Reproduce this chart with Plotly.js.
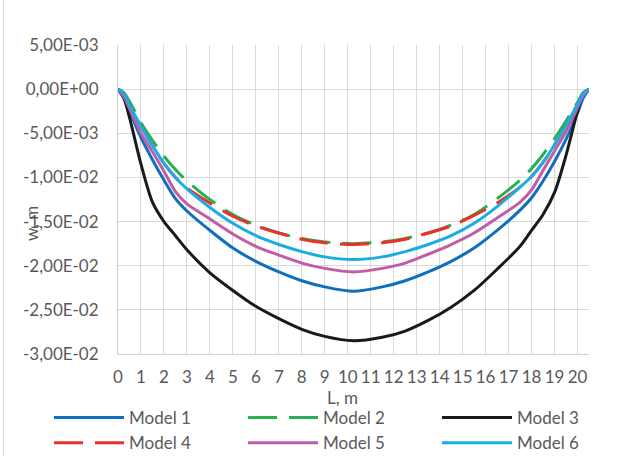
<!DOCTYPE html>
<html>
<head>
<meta charset="utf-8">
<script src="https://cdn.plot.ly/plotly-3.0.1.min.js"></script>
<style>
  html, body { margin: 0; padding: 0; background: #ffffff; }
  #chart { width: 618px; height: 456px; }
</style>
</head>
<body>
<div id="chart"></div>
<script>
// Positions along the span, m
const L = [0, 0.25, 0.5, 1, 1.5, 2, 2.5, 3, 4, 5, 6, 7, 8, 9, 10.25,
           11.5, 12.5, 13.5, 14.5, 15.5, 16.5, 17.5, 18, 18.5, 19, 19.5, 20, 20.25, 20.5];

// Deflection w of each model, m
const model1 = [0, -0.0009, -0.0025, -0.0055, -0.0080, -0.0103, -0.0124, -0.0138, -0.0160, -0.0180, -0.0195, -0.0207, -0.0217, -0.0224, -0.0229,
                -0.0224, -0.0217, -0.0207, -0.0195, -0.0180, -0.0160, -0.0137, -0.0123, -0.0104, -0.0082, -0.0057, -0.0027, -0.0010, 0];
const model2 = [0, -0.0004, -0.0014, -0.0038, -0.0058, -0.0076, -0.0091, -0.0104, -0.0125, -0.0142, -0.0154, -0.0163, -0.0169, -0.0173, -0.0175,
                -0.0173, -0.0169, -0.0163, -0.0154, -0.0142, -0.0124, -0.0103, -0.0090, -0.0074, -0.0056, -0.0036, -0.0015, -0.0004, 0];
const model3 = [0, -0.0010, -0.0032, -0.0085, -0.0128, -0.0150, -0.0166, -0.0182, -0.0208, -0.0228, -0.0246, -0.0260, -0.0272, -0.0280, -0.0285,
                -0.0281, -0.0274, -0.0262, -0.0247, -0.0228, -0.0204, -0.0178, -0.0160, -0.0142, -0.0117, -0.0075, -0.0025, -0.0006, 0];
const model4 = [0, -0.0005, -0.0018, -0.0042, -0.0064, -0.0084, -0.0100, -0.0112, -0.0129, -0.0144, -0.0155, -0.0163, -0.0170, -0.0174, -0.0176,
                -0.0174, -0.0170, -0.0163, -0.0155, -0.0143, -0.0129, -0.0111, -0.0099, -0.0083, -0.0063, -0.0041, -0.0017, -0.0005, 0];
const model5 = [0, -0.0008, -0.0022, -0.0050, -0.0071, -0.0093, -0.0116, -0.0130, -0.0147, -0.0164, -0.0178, -0.0188, -0.0197, -0.0203, -0.0207,
                -0.0203, -0.0197, -0.0187, -0.0176, -0.0163, -0.0146, -0.0128, -0.0114, -0.0092, -0.0070, -0.0048, -0.0021, -0.0007, 0];
const model6 = [0, -0.0005, -0.0018, -0.0042, -0.0064, -0.0084, -0.0100, -0.0113, -0.0134, -0.0152, -0.0166, -0.0176, -0.0184, -0.0190, -0.0193,
                -0.0190, -0.0184, -0.0176, -0.0166, -0.0152, -0.0133, -0.0111, -0.0099, -0.0083, -0.0063, -0.0041, -0.0017, -0.0005, 0];

const seriesNames = ['Model 1', 'Model 2', 'Model 3', 'Model 4', 'Model 5', 'Model 6'];

// Axis ticks
const xTickVals = [0, 1, 2, 3, 4, 5, 6, 7, 8, 9, 10, 11, 12, 13, 14, 15, 16, 17, 18, 19, 20];
const yTickVals = [0.005, 0, -0.005, -0.01, -0.015, -0.02, -0.025, -0.03];
const yTickText = ['5,00E-03', '0,00E+00', '-5,00E-03', '-1,00E-02', '-1,50E-02', '-2,00E-02', '-2,50E-02', '-3,00E-02'];

const FONT = 'Lato, "Open Sans", sans-serif';
const GREY = '#595959';
const FS = 17;

const styles = [
  { color: '#0f6fbf', dash: 'solid', legend: 'legend' },
  { color: '#27b04f', dash: '29px,12px', legend: 'legend2' },
  { color: '#1a1a1a', dash: 'solid', legend: 'legend3' },
  { color: '#ee2f2a', dash: '29px,12px', legend: 'legend' },
  { color: '#c05da4', dash: 'solid', legend: 'legend2' },
  { color: '#19ade6', dash: 'solid', legend: 'legend3' }
];
const values = [model1, model2, model3, model4, model5, model6];

const traces = values.map((w, i) => ({
  type: 'scatter',
  mode: 'lines',
  name: seriesNames[i],
  x: L,
  y: w,
  legend: styles[i].legend,
  legendgroup: 'g' + i,
  line: { color: styles[i].color, width: 3, dash: styles[i].dash, shape: 'spline', smoothing: 0.8 },
  hoverinfo: 'skip'
}));

// Three legend columns under the plot
function legendAt(xPx) {
  return {
    orientation: 'v',
    xref: 'container', yref: 'container',
    x: xPx / 618, y: 1 - 400 / 456,
    xanchor: 'left', yanchor: 'top',
    bgcolor: 'rgba(0,0,0,0)',
    font: { family: FONT, size: FS, color: GREY },
    itemwidth: 70,
    tracegroupgap: 9,
    traceorder: 'normal'
  };
}

const layout = {
  width: 618,
  height: 456,
  margin: { l: 118, r: 29, t: 45, b: 102, autoexpand: false },
  paper_bgcolor: '#ffffff',
  plot_bgcolor: '#ffffff',
  font: { family: FONT, size: FS, color: GREY },
  showlegend: true,
  legend: legendAt(49),
  legend2: legendAt(243),
  legend3: legendAt(437),
  xaxis: {
    range: [0, 20.5],
    tickmode: 'array',
    tickvals: xTickVals,
    showgrid: true,
    gridcolor: '#d9d9d9',
    gridwidth: 1,
    zeroline: false,
    showline: true,
    linecolor: '#d0d0d0',
    linewidth: 1,
    ticks: '',
    ticklabelstandoff: 8,
    automargin: false,
    tickfont: { family: FONT, size: FS, color: GREY }
  },
  yaxis: {
    range: [-0.03, 0.005],
    tickmode: 'array',
    tickvals: yTickVals,
    ticktext: yTickText,
    showgrid: true,
    gridcolor: '#d9d9d9',
    gridwidth: 1,
    zeroline: false,
    showline: true,
    linecolor: '#d0d0d0',
    linewidth: 1,
    ticks: '',
    ticklabelstandoff: 15,
    automargin: false,
    tickfont: { family: FONT, size: FS, color: GREY }
  },
  annotations: [
    {
      text: 'L, m', showarrow: false,
      xref: 'paper', yref: 'paper',
      x: (342 - 118) / 471, y: (354 - 397) / 309,
      xanchor: 'center', yanchor: 'middle',
      font: { family: FONT, size: FS, color: GREY }
    },
    {
      text: 'w, m', showarrow: false, textangle: -90,
      xref: 'paper', yref: 'paper',
      x: (31 - 118) / 471, y: (354 - 224) / 309,
      xanchor: 'center', yanchor: 'middle',
      font: { family: FONT, size: FS, color: GREY }
    }
  ],
  shapes: [
    {
      type: 'line', xref: 'paper', yref: 'paper',
      x0: (3.5 - 118) / 471, x1: (3.5 - 118) / 471,
      y0: (354 - 456) / 309, y1: (354 - 0) / 309,
      line: { color: '#d9d9d9', width: 1 }
    }
  ]
};

Plotly.newPlot('chart', traces, layout, { displayModeBar: false, staticPlot: true });
</script>
</body>
</html>
